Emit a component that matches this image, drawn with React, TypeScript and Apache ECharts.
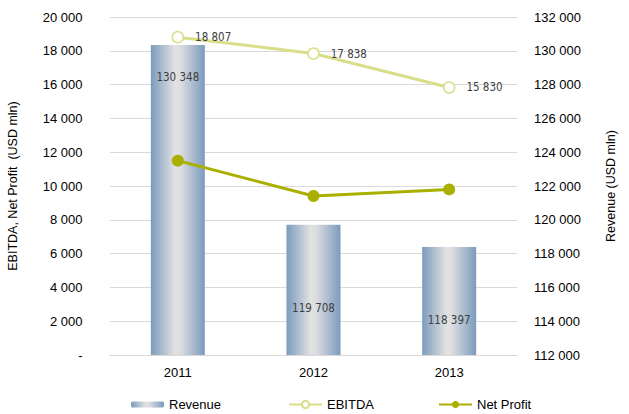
import React, { useEffect, useRef } from "react";
import * as echarts from "echarts";

const years = ["2011", "2012", "2013"];
const revenue = [130348, 119708, 118397];
const ebitda = [18807, 17838, 15830];
const netProfit = [11500, 9410, 9800];
const revenueLabelDistance = [26, 77, 67];

const fmt = (v: number) => String(Math.round(v)).replace(/\B(?=(\d{3})+(?!\d))/g, " ");

export default function App() {
  const ref = useRef<HTMLDivElement>(null);
  useEffect(() => {
    const chart = echarts.init(ref.current!, null, { renderer: "svg" });
    const barGrad = new echarts.graphic.LinearGradient(0, 0, 1, 0, [
      { offset: 0, color: "#7b9bbd" },
      { offset: 0.45, color: "#e2e2e2" },
      { offset: 0.55, color: "#dcdde0" },
      { offset: 1, color: "#7b9bbd" },
    ]);
    const axisFont = { fontFamily: "Liberation Sans, Arial", fontSize: 13, color: "#000" };
    const nameFont = { fontFamily: "Liberation Sans, Arial", fontSize: 12.5, color: "#000" };
    const labelFont = { fontFamily: "DejaVu Sans Condensed, Roboto", fontSize: 11.5, color: "#404040" };
    const legendCommon = { top: 398, padding: 0, itemWidth: 33, itemHeight: 6, itemGap: 0, textStyle: { ...axisFont } };
    chart.setOption({
      animation: false,
      grid: { left: 110, right: 112, top: 17, bottom: 59, containLabel: false, outerBoundsMode: "none" },
      legend: [
        { ...legendCommon, data: ["Revenue"], left: 131 },
        { ...legendCommon, data: ["EBITDA"], left: 288, itemHeight: 9 },
        { ...legendCommon, data: ["Net Profit"], left: 438, itemHeight: 9 },
      ],
      xAxis: {
        type: "category",
        data: years,
        axisTick: { show: false },
        axisLine: { show: true, lineStyle: { color: "#d9d9d9" } },
        axisLabel: { ...axisFont, margin: 11 },
      },
      yAxis: [
        {
          type: "value", min: 0, max: 20000, interval: 2000,
          name: "EBITDA, Net Profit  (USD mln)", nameLocation: "middle", nameGap: 91,
          nameTextStyle: { ...nameFont },
          axisLine: { show: false }, axisTick: { show: false },
          splitLine: { lineStyle: { color: "#d9d9d9" } },
          axisLabel: { ...axisFont, margin: 27.5, formatter: (v: number) => (v === 0 ? "-" : fmt(v)) },
        },
        {
          type: "value", min: 112000, max: 132000, interval: 2000,
          name: "Revenue (USD mln)", nameLocation: "middle", nameGap: 87,
          nameTextStyle: { ...nameFont },
          axisLine: { show: false }, axisTick: { show: false },
          splitLine: { show: false },
          axisLabel: { ...axisFont, margin: 17, formatter: (v: number) => fmt(v) },
        },
      ],
      series: [
        {
          name: "Revenue",
          type: "bar",
          yAxisIndex: 1,
          barWidth: 54,
          itemStyle: { color: barGrad },
          data: revenue.map((v, i) => ({
            value: v,
            label: {
              show: true, position: "insideTop", distance: revenueLabelDistance[i],
              ...labelFont, formatter: () => fmt(v),
            },
          })),
          z: 1,
        },
        {
          name: "EBITDA",
          type: "line",
          yAxisIndex: 0,
          data: ebitda,
          symbol: "circle",
          symbolSize: 11,
          lineStyle: { color: "#d8df88", width: 3 },
          itemStyle: { color: "#ffffff", borderColor: "#d8df88", borderWidth: 1.5 },
          label: { show: true, position: "right", distance: 11, ...labelFont, formatter: (p: any) => fmt(p.value) },
          z: 3,
        },
        {
          name: "Net Profit",
          type: "line",
          yAxisIndex: 0,
          data: netProfit,
          symbol: "circle",
          symbolSize: 12,
          lineStyle: { color: "#a9b000", width: 3 },
          itemStyle: { color: "#a9b000" },
          z: 3,
        },
      ],
    });
    return () => chart.dispose();
  }, []);
  return <div ref={ref} style={{ width: 629, height: 414, position: "absolute", left: 0, top: 0 }} />;
}
